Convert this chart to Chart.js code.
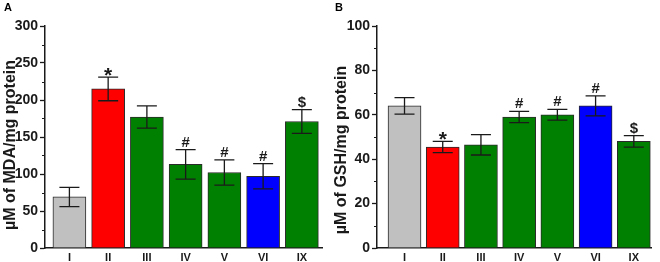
<!DOCTYPE html>
<html>
<head>
<meta charset="utf-8">
<script src="https://cdn.jsdelivr.net/npm/chart.js@4/dist/chart.umd.min.js"></script>
<style>
  html, body { margin: 0; padding: 0; background: #fff; }
  #wrap { position: relative; width: 660px; height: 262px; }
  .panel { position: absolute; top: 0; width: 330px; height: 262px; }
  .tag { position: absolute; top: 1px; font: bold 11px "Liberation Sans", Arial, sans-serif; }
</style>
</head>
<body>
<div id="wrap">
  <div class="panel" style="left:0"><canvas id="chartA" width="330" height="262"></canvas></div>
  <div class="panel" style="left:330px"><canvas id="chartB" width="330" height="262"></canvas></div>
  <div class="tag" style="left:4px">A</div>
  <div class="tag" style="left:335px">B</div>
</div>
<script>
// --- DATA ---
const groups = ["I", "II", "III", "IV", "V", "VI", "IX"];
const barColors = ["#c0c0c0", "#ff0000", "#008000", "#008000", "#008000", "#0000ff", "#008000"];

const mdaValues = [69, 215, 177, 113, 102, 97, 171];
const mdaErrors = [13, 16, 15, 20, 17, 17, 16];
const mdaMarks = ["", "*", "", "#", "#", "#", "$"];
const mdaTicks = [0, 50, 100, 150, 200, 250, 300];

const gshValues = [64, 45.5, 46.5, 59, 60, 64, 48];
const gshErrors = [3.7, 2.5, 4.6, 2.5, 2.4, 4.5, 2.6];
const gshMarks = ["", "*", "", "#", "#", "#", "$"];
const gshTicks = [0, 20, 40, 60, 80, 100];

const FONT = '"Liberation Sans", Arial, sans-serif';
const INK = "#1a1a1a";

// error bars, significance marks, minor ticks and the y title
const extrasPlugin = {
  id: "extras",
  afterDatasetsDraw(chart, args, opts) {
    const { ctx } = chart;
    const y = chart.scales.y;
    const meta = chart.getDatasetMeta(0);
    ctx.save();
    ctx.strokeStyle = INK;
    ctx.lineWidth = 1.3;
    meta.data.forEach((bar, i) => {
      const v = opts.values[i], e = opts.errors[i];
      const top = y.getPixelForValue(v + e);
      const bot = y.getPixelForValue(v - e);
      const half = 10;
      ctx.beginPath();
      ctx.moveTo(bar.x, top); ctx.lineTo(bar.x, bot);
      ctx.moveTo(bar.x - half, top); ctx.lineTo(bar.x + half, top);
      ctx.moveTo(bar.x - half, bot); ctx.lineTo(bar.x + half, bot);
      ctx.stroke();
      const m = opts.marks[i];
      if (m) {
        ctx.fillStyle = INK;
        ctx.textAlign = "center";
        ctx.textBaseline = "alphabetic";
        ctx.font = (m === "*" ? "bold 21px " : "bold 15px ") + FONT;
        ctx.fillText(m, bar.x, m === "*" ? top + 12 - 7 : top - 3);
      }
    });
    // minor ticks halfway between majors
    const t = opts.ticks;
    ctx.lineWidth = 1.2;
    ctx.beginPath();
    for (let k = 0; k < t.length - 1; k++) {
      const py = Math.round(y.getPixelForValue((t[k] + t[k + 1]) / 2)) + 0.5;
      ctx.moveTo(y.right - 3, py); ctx.lineTo(y.right, py);
    }
    ctx.stroke();
    // y title
    ctx.translate(opts.titleX, opts.titleY);
    ctx.rotate(-Math.PI / 2);
    ctx.fillStyle = INK;
    ctx.textAlign = "center";
    ctx.textBaseline = "middle";
    ctx.font = "bold 16px " + FONT;
    ctx.fillText(opts.title, 0, 0);
    ctx.restore();
  }
};

function makePanel(id, cfg) {
  const ctx = document.getElementById(id).getContext("2d");
  return new Chart(ctx, {
    type: "bar",
    data: {
      datasets: [{
        data: groups.map((g, i) => ({ x: i, y: cfg.values[i] })),
        backgroundColor: barColors,
        borderColor: "#2a2a2a",
        borderWidth: 1,
        borderSkipped: "bottom",
        barThickness: 33
      }]
    },
    options: {
      responsive: false,
      animation: false,
      devicePixelRatio: 1,
      layout: { padding: { top: 26, right: cfg.padRight, left: 0, bottom: 0 } },
      plugins: {
        legend: { display: false },
        tooltip: { enabled: false },
        extras: {
          values: cfg.values, errors: cfg.errors, marks: cfg.marks, ticks: cfg.ticks,
          title: cfg.title, titleX: cfg.titleX, titleY: cfg.titleY
        }
      },
      scales: {
        x: {
          type: "linear",
          offset: false,
          min: cfg.xMin,
          max: cfg.xMax,
          grid: { display: false, drawTicks: false },
          border: { color: INK, width: 1.5 },
          afterFit: (s) => { s.height = 14; },
          ticks: {
            stepSize: 1,
            includeBounds: false,
            autoSkip: false,
            maxRotation: 0,
            padding: 3,
            color: INK,
            font: { family: FONT, size: 11, weight: "bold" },
            callback: (v) => (Number.isInteger(v) && groups[v] !== undefined ? groups[v] : "")
          }
        },
        y: {
          min: 0,
          max: cfg.ticks[cfg.ticks.length - 1],
          afterFit: (s) => { s.width = cfg.axisLeft; },
          afterBuildTicks: (s) => { s.ticks = cfg.ticks.map((v) => ({ value: v })); },
          grid: { drawOnChartArea: false, drawTicks: true, tickLength: 5, color: INK, tickWidth: 1.3 },
          border: { color: INK, width: 1.5 },
          ticks: {
            color: INK,
            padding: 2,
            font: { family: FONT, size: 14, weight: "bold" }
          },
          title: { display: false }
        }
      }
    },
    plugins: [extrasPlugin]
  });
}

makePanel("chartA", {
  values: mdaValues, errors: mdaErrors, marks: mdaMarks, ticks: mdaTicks,
  title: "\u00b5M of MDA/mg protein", titleX: 11, titleY: 145,
  axisLeft: 45, padRight: 8, xMin: -0.63, xMax: 6.52
});

makePanel("chartB", {
  values: gshValues, errors: gshErrors, marks: gshMarks, ticks: gshTicks,
  title: "\u00b5M of GSH/mg protein", titleX: 12, titleY: 150,
  axisLeft: 47, padRight: 9, xMin: -0.72, xMax: 6.45
});
</script>
</body>
</html>
